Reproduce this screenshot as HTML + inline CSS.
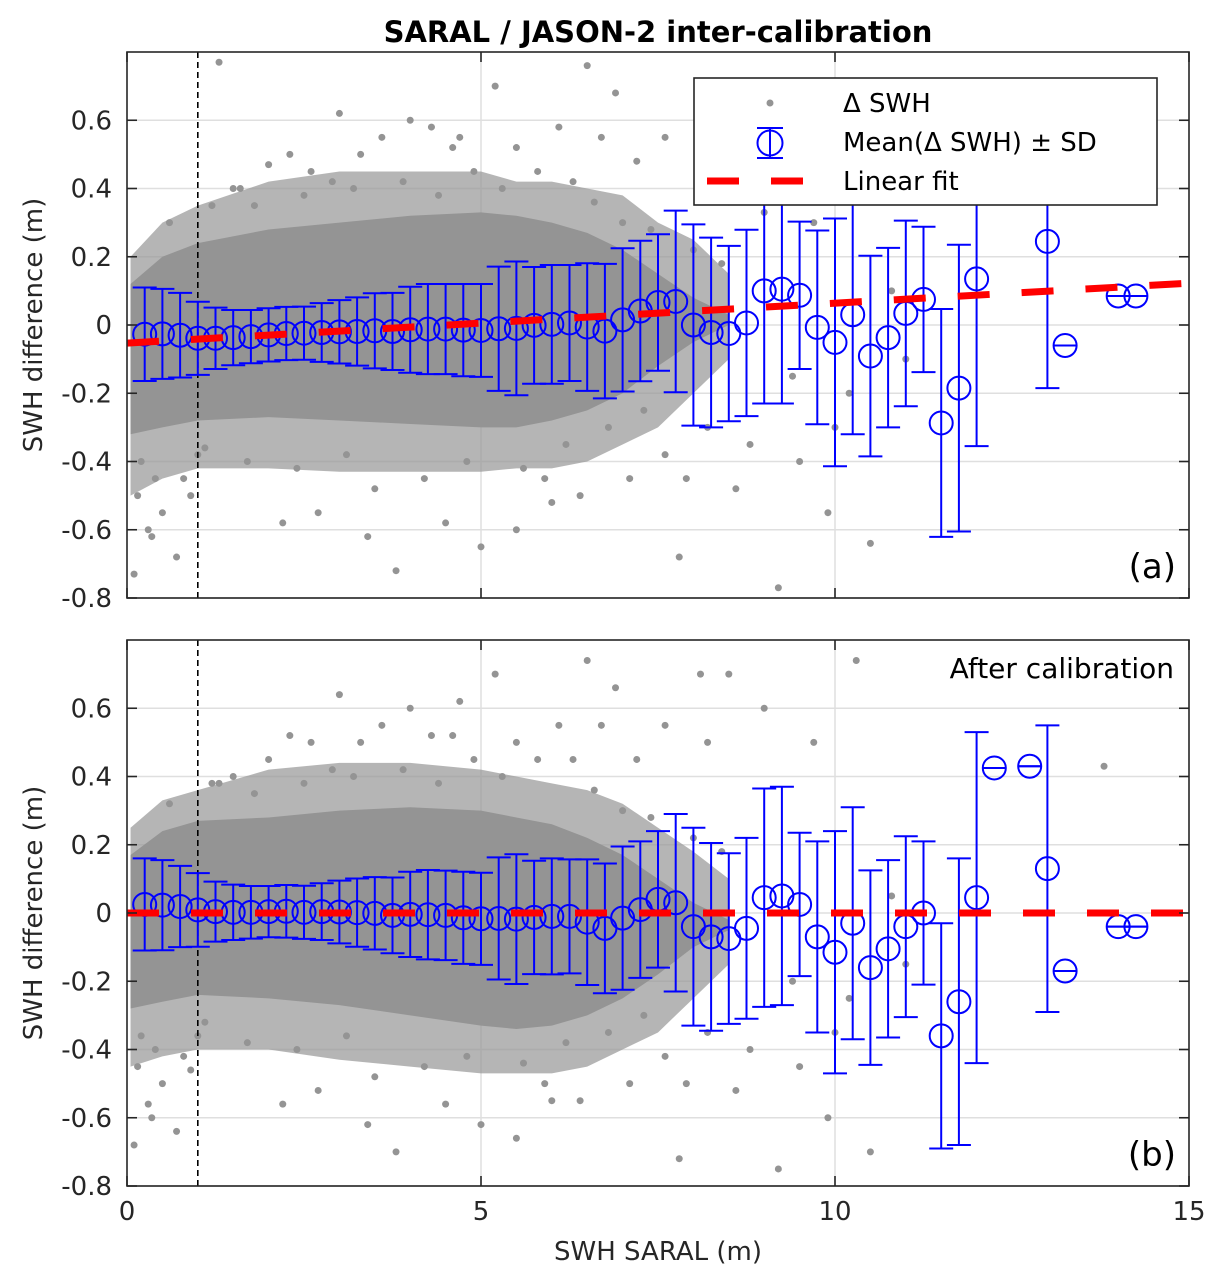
<!DOCTYPE html>
<html><head><meta charset="utf-8">
<style>
html,body{margin:0;padding:0;background:#fff;}
svg{display:block;font-family:"DejaVu Sans","Liberation Sans",sans-serif;}
</style></head>
<body>
<svg id="chart" width="1227" height="1286" viewBox="0 0 1227 1286" xmlns="http://www.w3.org/2000/svg">
<defs>
<clipPath id="clipA"><rect x="127" y="52" width="1062" height="546"/></clipPath>
<clipPath id="clipB"><rect x="127" y="640" width="1062" height="546"/></clipPath>
</defs>
<text x="658" y="42" text-anchor="middle" font-size="29" font-weight="bold">SARAL / JASON-2 inter-calibration</text>
<g id="panelA"></g>
<g id="panelB"></g>
<text x="658" y="1260" text-anchor="middle" font-size="26" fill="#262626">SWH SARAL (m)</text>
</svg>
<script>
// ---- data ----
const binX = [0.25,0.5,0.75,1.0,1.25,1.5,1.75,2.0,2.25,2.5,2.75,3.0,3.25,3.5,3.75,4.0,4.25,4.5,4.75,5.0,5.25,5.5,5.75,6.0,6.25,6.5,6.75,7.0,7.25,7.5,7.75,8.0,8.25,8.5,8.75,9.0,9.25,9.5,9.75,10.0,10.25,10.5,10.75,11.0,11.25,11.5,11.75,12.0,12.25,12.75,13.0,13.25,14.0,14.25];
const meanA = [-0.027,-0.026,-0.030,-0.039,-0.039,-0.037,-0.034,-0.029,-0.025,-0.024,-0.022,-0.020,-0.019,-0.017,-0.019,-0.014,-0.012,-0.012,-0.015,-0.016,-0.011,-0.010,-0.001,0.002,0.006,-0.006,-0.018,0.015,0.041,0.066,0.069,0.0,-0.022,-0.025,0.006,0.10,0.105,0.087,-0.007,-0.051,0.03,-0.091,-0.037,0.034,0.075,-0.287,-0.185,0.135,0.51,0.52,0.245,-0.06,0.085,0.085];
const sdA = [0.137,0.132,0.124,0.107,0.090,0.081,0.078,0.078,0.078,0.078,0.086,0.093,0.100,0.110,0.113,0.126,0.132,0.132,0.135,0.136,0.182,0.196,0.171,0.174,0.170,0.187,0.197,0.21,0.206,0.20,0.266,0.295,0.278,0.257,0.273,0.33,0.335,0.216,0.284,0.363,0.35,0.294,0.263,0.272,0.213,0.334,0.42,0.49,0,0,0.43,0,0,0];
const meanB = [0.025,0.023,0.019,0.009,0.004,0.002,0.002,0.004,0.005,0.002,0.004,0.003,0.001,-0.001,-0.007,-0.004,-0.005,-0.007,-0.014,-0.017,-0.016,-0.018,-0.013,-0.010,-0.010,-0.027,-0.045,-0.015,0.01,0.04,0.03,-0.04,-0.07,-0.075,-0.045,0.045,0.05,0.025,-0.07,-0.115,-0.03,-0.16,-0.105,-0.04,0.0,-0.36,-0.26,0.045,0.425,0.43,0.13,-0.17,-0.04,-0.04];
const sdB = [0.135,0.132,0.119,0.108,0.088,0.081,0.077,0.075,0.077,0.078,0.083,0.092,0.100,0.106,0.111,0.125,0.131,0.131,0.135,0.135,0.179,0.190,0.166,0.170,0.167,0.184,0.19,0.21,0.20,0.20,0.26,0.29,0.275,0.25,0.265,0.32,0.32,0.21,0.28,0.355,0.34,0.285,0.26,0.265,0.21,0.33,0.42,0.485,0,0,0.42,0,0,0];
const fitInterceptA = -0.053, fitSlopeA = 0.0117;
const fitInterceptB = 0, fitSlopeB = 0;
// dense point-cloud envelope (x, upper, lower) and inner core
const cloudX = [0.05,0.5,1,2,3,4,5,5.5,6,6.5,7,7.5,8,8.5];
const cloudUpA = [0.2,0.3,0.35,0.42,0.45,0.45,0.45,0.42,0.42,0.4,0.38,0.3,0.25,0.15];
const cloudLoA = [-0.5,-0.45,-0.42,-0.42,-0.43,-0.43,-0.43,-0.42,-0.42,-0.4,-0.35,-0.3,-0.2,-0.1];
const coreUpA = [0.12,0.2,0.24,0.28,0.3,0.32,0.33,0.32,0.3,0.27,0.22,0.15,0.08,0.03];
const coreLoA = [-0.32,-0.3,-0.28,-0.27,-0.28,-0.29,-0.3,-0.3,-0.28,-0.25,-0.2,-0.12,-0.05,0.0];
const cloudUpB = [0.25,0.33,0.36,0.42,0.44,0.44,0.42,0.4,0.38,0.36,0.32,0.25,0.18,0.1];
const cloudLoB = [-0.45,-0.42,-0.4,-0.4,-0.43,-0.45,-0.47,-0.47,-0.47,-0.45,-0.4,-0.35,-0.25,-0.15];
const coreUpB = [0.17,0.24,0.27,0.28,0.3,0.31,0.3,0.28,0.26,0.22,0.17,0.1,0.03,-0.02];
const coreLoB = [-0.28,-0.26,-0.24,-0.25,-0.27,-0.3,-0.33,-0.34,-0.33,-0.3,-0.25,-0.18,-0.1,-0.05];
// sparse outlier points
const ptsXA = [0.1,0.3,0.5,0.4,0.2,0.7,0.9,1.3,1.5,1.2,2.0,2.3,2.6,3.0,3.3,3.6,4.0,4.3,4.7,4.9,5.2,5.5,6.1,6.5,6.9,6.3,7.2,7.6,2.2,2.7,3.4,3.8,4.5,5.0,5.5,6.0,6.4,7.8,9.2,9.9,10.5,8.1,8.5,9.0,9.7,0.6,1.8,2.5,3.2,3.9,4.4,5.3,5.8,6.6,7.0,7.4,8.0,8.4,1.0,1.7,2.4,3.1,4.2,4.8,5.6,6.2,6.8,7.3,7.6,8.2,8.8,9.4,10.2,10.8,0.15,0.35,0.8,1.1,7.9,8.6,9.5,10.0,11.0,6.7,7.1,5.9,4.6,3.5,2.9,1.6];
const ptsYA = [-0.73,-0.6,-0.55,-0.45,-0.4,-0.68,-0.5,0.77,0.4,0.35,0.47,0.5,0.45,0.62,0.5,0.55,0.6,0.58,0.55,0.45,0.7,0.52,0.58,0.76,0.68,0.42,0.48,0.55,-0.58,-0.55,-0.62,-0.72,-0.58,-0.65,-0.6,-0.52,-0.5,-0.68,-0.77,-0.55,-0.64,0.45,0.36,0.33,0.3,0.3,0.35,0.38,0.4,0.42,0.38,0.4,0.45,0.36,0.3,0.28,0.22,0.18,-0.38,-0.4,-0.42,-0.38,-0.45,-0.4,-0.42,-0.35,-0.3,-0.25,-0.38,-0.3,-0.35,-0.15,-0.2,0.1,-0.5,-0.62,-0.45,-0.36,-0.45,-0.48,-0.4,-0.3,-0.1,0.55,-0.45,-0.45,0.52,-0.48,0.42,0.4];
const ptsXB = [0.1,0.3,0.5,0.4,0.2,0.7,0.9,1.3,1.5,1.2,2.0,2.3,2.6,3.0,3.3,3.6,4.0,4.3,4.7,4.9,5.2,5.5,6.1,6.5,6.9,6.3,7.2,7.6,2.2,2.7,3.4,3.8,4.5,5.0,5.5,6.0,6.4,7.8,9.2,9.9,10.5,8.1,8.5,9.0,9.7,0.6,1.8,2.5,3.2,3.9,4.4,5.3,5.8,6.6,7.0,7.4,8.0,8.4,1.0,1.7,2.4,3.1,4.2,4.8,5.6,6.2,6.8,7.3,7.6,8.2,8.8,9.4,10.2,10.8,0.15,0.35,0.8,1.1,7.9,8.6,9.5,10.0,11.0,6.7,7.1,5.9,4.6,3.5,2.9,13.8,10.3,8.2];
const ptsYB = [-0.68,-0.56,-0.5,-0.4,-0.36,-0.64,-0.46,0.38,0.4,0.38,0.45,0.52,0.5,0.64,0.5,0.55,0.6,0.52,0.62,0.45,0.7,0.5,0.55,0.74,0.66,0.45,0.45,0.55,-0.56,-0.52,-0.62,-0.7,-0.56,-0.62,-0.66,-0.55,-0.55,-0.72,-0.75,-0.6,-0.7,0.7,0.7,0.6,0.5,0.32,0.35,0.38,0.4,0.42,0.38,0.4,0.45,0.36,0.3,0.28,0.22,0.18,-0.36,-0.38,-0.4,-0.36,-0.45,-0.42,-0.44,-0.38,-0.35,-0.3,-0.42,-0.35,-0.4,-0.2,-0.25,0.05,-0.45,-0.6,-0.42,-0.32,-0.5,-0.52,-0.45,-0.35,-0.15,0.55,-0.5,-0.5,0.52,-0.48,0.42,0.43,0.74,0.5];
const yTicks = [0.6,0.4,0.2,0,-0.2,-0.4,-0.6,-0.8];
const yTickLabels = ["0.6","0.4","0.2","0","-0.2","-0.4","-0.6","-0.8"];
const xTicks = [0,5,10,15];
const xTickLabels = ["0","5","10","15"];

const NS = "http://www.w3.org/2000/svg";
const X0 = 127, X1 = 1189;
function xs(v){ return X0 + (v/15)*(X1-X0); }
function mk(parent, tag, attrs){
  const e = document.createElementNS(NS, tag);
  for (const k in attrs) e.setAttribute(k, attrs[k]);
  parent.appendChild(e);
  return e;
}

function drawPanel(gid, top, clipId, mean, sd, fa, fb, cUp, cLo, kUp, kLo, px, py, showXLabels, letter){
  const g = document.getElementById(gid);
  const bottom = top + 546;
  function ys(v){ return top + (0.8 - v)/1.6*546; }
  for (let i=0;i<yTicks.length;i++){
    const gl = mk(g,'line',{x1:X0,x2:X1,y1:ys(yTicks[i]),y2:ys(yTicks[i]),stroke:'#dfdfdf','stroke-width':1.5});
    
    
  }
  for (let i=1;i<xTicks.length-1;i++){
    const gl = mk(g,'line',{x1:xs(xTicks[i]),x2:xs(xTicks[i]),y1:top,y2:bottom,stroke:'#dfdfdf','stroke-width':1.5});
    
    
  }
  const cg = mk(g,'g',{'clip-path':'url(#'+clipId+')'});
  
  
  function poly(up, lo, fill, op, name){
    let d = '';
    for (let i=0;i<cloudX.length;i++) d += (i?'L':'M') + xs(cloudX[i]) + ' ' + ys(up[i]) + ' ';
    for (let i=cloudX.length-1;i>=0;i--) d += 'L' + xs(cloudX[i]) + ' ' + ys(lo[i]) + ' ';
    d += 'Z';
    const p = mk(cg,'path',{d:d,fill:fill,'fill-opacity':op});
    
    
  }
  poly(cUp, cLo, '#969696', 0.7, 'point-cloud-outer');
  poly(kUp, kLo, '#949494', 1, 'point-cloud-core');
  for (let i=0;i<px.length;i++){
    const c = mk(cg,'circle',{cx:xs(px[i]),cy:ys(py[i]),r:3.5,fill:'#949494'});
    
    
  }
  const vl = mk(cg,'line',{x1:xs(1),x2:xs(1),y1:top,y2:bottom,stroke:'#000','stroke-width':1.6,'stroke-dasharray':'6 4'});
  
  
  for (let i=0;i<binX.length;i++){
    const x = xs(binX[i]), yt = ys(mean[i]+sd[i]), yb = ys(mean[i]-sd[i]), ym = ys(mean[i]);
    const eg = mk(cg,'g',{stroke:'#0000ff','stroke-width':2,fill:'none'});
    
    
    mk(eg,'line',{x1:x,x2:x,y1:yt,y2:yb});
    mk(eg,'line',{x1:x-12,x2:x+12,y1:yt,y2:yt});
    mk(eg,'line',{x1:x-12,x2:x+12,y1:yb,y2:yb});
    mk(eg,'circle',{cx:x,cy:ym,r:11.5});
  }
  const fl = mk(cg,'line',{x1:xs(0),x2:xs(15),y1:ys(fa),y2:ys(fa+fb*15),stroke:'#ff0000','stroke-width':7,'stroke-dasharray':'32 32'});
  
  
  const bx = mk(g,'rect',{x:X0,y:top,width:X1-X0,height:546,fill:'none',stroke:'#262626','stroke-width':1.6});
  
  
  for (let i=0;i<yTicks.length;i++){
    const y = ys(yTicks[i]);
    mk(g,'line',{x1:X0,x2:X0+10,y1:y,y2:y,stroke:'#262626','stroke-width':1.6});
    mk(g,'line',{x1:X1-10,x2:X1,y1:y,y2:y,stroke:'#262626','stroke-width':1.6});
    const t = mk(g,'text',{x:112,y:y+9,'text-anchor':'end','font-size':26,fill:'#262626'});
    t.textContent = yTickLabels[i];
    
    
  }
  for (let i=0;i<xTicks.length;i++){
    const x = xs(xTicks[i]);
    mk(g,'line',{x1:x,x2:x,y1:bottom,y2:bottom-10,stroke:'#262626','stroke-width':1.6});
    mk(g,'line',{x1:x,x2:x,y1:top,y2:top+10,stroke:'#262626','stroke-width':1.6});
    if (showXLabels){
      const t = mk(g,'text',{x:x,y:bottom+34,'text-anchor':'middle','font-size':26,fill:'#262626'});
      t.textContent = xTickLabels[i];
      
      
    }
  }
  const yl = mk(g,'text',{x:0,y:0,'text-anchor':'middle','font-size':26,fill:'#262626',transform:'translate(42,'+(top+273)+') rotate(-90)'});
  yl.textContent = 'SWH difference (m)';
  
  
  const lt = mk(g,'text',{x:1176,y:bottom-20,'text-anchor':'end','font-size':34,fill:'#000'});
  lt.textContent = letter;
  
  
  return ys;
}

drawPanel('panelA',52,'clipA',meanA,sdA,fitInterceptA,fitSlopeA,cloudUpA,cloudLoA,coreUpA,coreLoA,ptsXA,ptsYA,false,'(a)');
drawPanel('panelB',640,'clipB',meanB,sdB,fitInterceptB,fitSlopeB,cloudUpB,cloudLoB,coreUpB,coreLoB,ptsXB,ptsYB,true,'(b)');

const svg = document.getElementById('chart');
const ac = mk(svg,'text',{x:1174,y:678,'text-anchor':'end','font-size':28,fill:'#000'});
ac.textContent = 'After calibration';



const lg = mk(svg,'g',{});


mk(lg,'rect',{x:694,y:78,width:463,height:127,fill:'#fff',stroke:'#262626','stroke-width':1.6});
const e1 = mk(lg,'circle',{cx:770,cy:103,r:3.5,fill:'#949494'});


const eb = mk(lg,'g',{stroke:'#0000ff','stroke-width':2,fill:'none'});


mk(eb,'line',{x1:770,x2:770,y1:128,y2:158});
mk(eb,'line',{x1:757,x2:783,y1:128,y2:128});
mk(eb,'line',{x1:757,x2:783,y1:158,y2:158});
mk(eb,'circle',{cx:770,cy:143,r:12.5});
const lf = mk(lg,'line',{x1:707,x2:832,y1:181,y2:181,stroke:'#ff0000','stroke-width':7,'stroke-dasharray':'32 32'});


const labels = ['\u0394 SWH','Mean(\u0394 SWH) \u00b1 SD','Linear fit'];
const ly = [112,151,190];
for (let i=0;i<3;i++){
  const t = mk(lg,'text',{x:843,y:ly[i],'font-size':26,fill:'#000'});
  t.textContent = labels[i];
  
  
}
</script>
</body></html>
